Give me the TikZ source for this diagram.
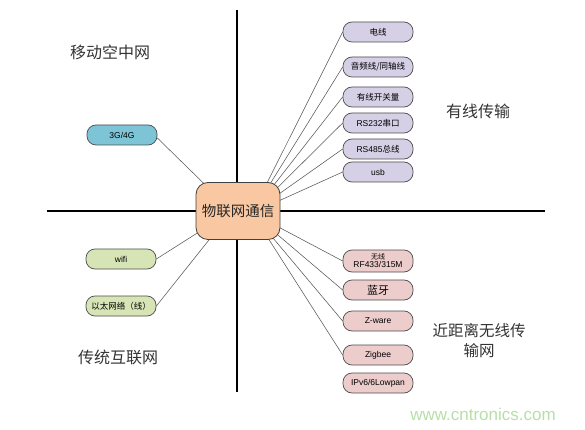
\documentclass[tikz,border=0pt]{standalone}
\usepackage{fontspec}
\setmainfont{Liberation Sans}
\newfontfamily\cjk{Noto Sans CJK SC}
\begin{document}
\begin{tikzpicture}[x=1pt,y=-1pt,
  box/.style={draw=black!70, line width=0.7pt, rounded corners=9pt, minimum width=70pt, minimum height=20pt, inner sep=0pt, font=\fontsize{8.5}{9}\selectfont, align=center},
  purp/.style={box, fill=purpfill},
  pinkb/.style={box, fill=pinkfill},
  teal/.style={box, fill=tealfill},
  greenb/.style={box, fill=greenfill},
  conn/.style={draw=black!65, line width=0.55pt},
  axis/.style={line width=2.6pt, black},
  quad/.style={font=\cjk\fontsize{16}{20}\selectfont, text=black!80, align=center}]
\definecolor{purpfill}{HTML}{D6D0E6}
\definecolor{pinkfill}{HTML}{EDCCCC}
\definecolor{tealfill}{HTML}{7DC5D6}
\definecolor{greenfill}{HTML}{D7E5B6}
\definecolor{centfill}{HTML}{F9C8A2}
\definecolor{wm}{HTML}{B8DFA8}
\useasboundingbox (0,0) rectangle (585,430);
\fill[white] (0,0) rectangle (585,430);
% axes
\coordinate (vt) at (237,10);
\coordinate (vb) at (237,392);
\coordinate (hl) at (47,211);
\coordinate (hr) at (545,211);
\coordinate (cr) at (252,213);
\coordinate (cl) at (232,211);
\draw[axis] (vt) -- (vb);
\draw[axis] (hl) -- (hr);
% right top
\node[purp] (r1) at (378,32) {\cjk 电线};
\node[purp] (r2) at (378,67) {\cjk 音频线/同轴线};
\node[purp] (r3) at (378,97) {\cjk 有线开关量};
\node[purp] (r4) at (378,123) {RS232{\cjk 串口}};
\node[purp] (r5) at (378,149) {RS485{\cjk 总线}};
\node[purp] (r6) at (378,172) {usb};
% right bottom
\node[pinkb, minimum height=22pt] (b1) at (378,261) {{\cjk\fontsize{7}{7}\selectfont 无线}\\[-1pt]RF433/315M};
\node[pinkb] (b2) at (378,290) {\cjk\fontsize{11}{12}\selectfont 蓝牙};
\node[pinkb] (b3) at (378,321) {Z-ware};
\node[pinkb] (b4) at (378,355) {Zigbee};
\node[pinkb] (b5) at (378,383) {IPv6/6Lowpan};
% left
\node[teal] (l1) at (122,135) {3G/4G};
\node[greenb] (l2) at (121,259) {wifi};
\node[greenb] (l3) at (121,306) {\cjk 以太网络（线）};
% connectors (drawn under the centre node)
\foreach \n in {r1,r2,r3,r4,r5,r6,b1,b2,b3,b4}{\draw[conn] (cr) -- (\n.west);}
\draw[conn] (cl) -- ([yshift=-3pt]l1.east);
\foreach \n in {l2,l3}{\draw[conn] (cl) -- (\n.east);}
% center
\node[draw=black!75, line width=0.8pt, fill=centfill, rounded corners=12pt, minimum width=84pt, minimum height=57pt, font=\cjk\fontsize{14.5}{16}\selectfont, text=black!85] (c) at (238,211) {物联网通信};
% quadrant labels
\node[quad] (q1) at (110,52) {移动空中网};
\node[quad] (q2) at (478,111) {有线传输};
\node[quad, font=\cjk\fontsize{15.5}{20}\selectfont] (q3) at (479,341) {近距离无线传\\输网};
\node[quad] (q4) at (118,357) {传统互联网};
\node[font=\fontsize{17}{20}\selectfont, text=wm] (w) at (483,414) {www.cntronics.com};
\end{tikzpicture}
\end{document}
